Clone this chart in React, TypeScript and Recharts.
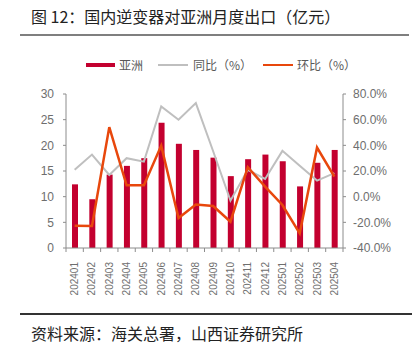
import React from "react";
import { ComposedChart, Bar, Line, XAxis, YAxis } from "recharts";

const months = [
  "202401", "202402", "202403", "202404", "202405", "202406", "202407", "202408",
  "202409", "202410", "202411", "202412", "202501", "202502", "202503", "202504",
];
// 亚洲出口（亿元）
const asia = [12.4, 9.5, 14.3, 16.0, 17.5, 24.4, 20.3, 19.1, 17.6, 14.0, 17.3, 18.2, 16.9, 12.0, 16.6, 19.1];
// 同比（%）
const yoy = [20.9, 32.8, 16.9, 30.0, 27.3, 70.3, 59.9, 72.9, 35.4, -3.1, 20.9, 13.8, 35.7, 24.0, 12.5, 18.3];
// 环比（%）
const mom = [-22.6, -22.9, 54.2, 8.9, 8.9, 39.8, -16.6, -6.2, -7.3, -19.5, 23.0, 7.8, -6.5, -28.6, 38.3, 15.6];

const leftTicks = [0, 5, 10, 15, 20, 25, 30];
const rightTicks = [-40, -20, 0, 20, 40, 60, 80];

const data = months.map((m, i) => ({ month: m, asia: asia[i], yoy: yoy[i], mom: mom[i] }));

const W = 414;
const H = 348;
const PLOT_LEFT = 66;
const PLOT_RIGHT = 343;
const BAND = (PLOT_RIGHT - PLOT_LEFT) / months.length;

const RED = "#C3002F";
const GRAY = "#BFBFBF";
const ORANGE = "#E8470C";
const AXIS = "#8C8C8C";
const TICK_TEXT = "#6E6E6E";
const CJK = '"Noto Sans CJK SC", "Noto Sans", sans-serif';

const MonthTick = (props: any) => {
  const { x, y, payload, index } = props;
  const isLast = index === months.length - 1;
  return (
    <g transform={`translate(${x},${y})`}>
      <line x1={-BAND / 2} y1={0} x2={-BAND / 2} y2={4} stroke={AXIS} />
      {isLast && <line x1={BAND / 2} y1={0} x2={BAND / 2} y2={4} stroke={AXIS} />}
      <text
        transform="rotate(-90)"
        x={-14}
        y={0}
        dy="0.35em"
        textAnchor="end"
        fontSize={10}
        fill={TICK_TEXT}
        fontFamily="Liberation Sans, Arial, sans-serif"
      >
        {payload.value}
      </text>
    </g>
  );
};

export default function App() {
  return (
    <div style={{ position: "absolute", left: 0, top: 0, width: W, height: H, background: "#fff", fontFamily: CJK }}>
      <div style={{ position: "absolute", left: 31, top: 5, fontSize: 16, color: "#222", whiteSpace: "nowrap", lineHeight: "22px" }}>
        图 12：国内逆变器对亚洲月度出口（亿元）
      </div>
      <div style={{ position: "absolute", left: 20, top: 34, width: 389, height: 2, background: "#7F7F7F" }} />

      {/* legend */}
      <div style={{ position: "absolute", left: 86, top: 63, width: 29, height: 4, background: RED }} />
      <div style={{ position: "absolute", left: 119, top: 56, fontSize: 12, color: "#595959", lineHeight: "17px" }}>亚洲</div>
      <div style={{ position: "absolute", left: 158, top: 64, width: 30, height: 2, background: GRAY }} />
      <div style={{ position: "absolute", left: 193, top: 56, fontSize: 12, color: "#595959", lineHeight: "17px", whiteSpace: "nowrap" }}>同比（%）</div>
      <div style={{ position: "absolute", left: 263, top: 64, width: 30, height: 2, background: ORANGE }} />
      <div style={{ position: "absolute", left: 297, top: 56, fontSize: 12, color: "#595959", lineHeight: "17px", whiteSpace: "nowrap" }}>环比（%）</div>

      <div style={{ position: "absolute", left: 0, top: 0 }}>
        <ComposedChart width={W} height={H} data={data} margin={{ top: 94, right: 0, bottom: 40, left: 0 }}>
          <XAxis
            dataKey="month"
            xAxisId="x"
            interval={0}
            height={60}
            stroke={AXIS}
            tickLine={false}
            tickSize={0}
            tickMargin={0}
            tick={<MonthTick />}
          />
          <YAxis
            yAxisId="left"
            orientation="left"
            width={PLOT_LEFT}
            domain={[0, 30]}
            ticks={leftTicks}
            stroke={AXIS}
            tickSize={3}
            tickMargin={9}
            tick={{ fill: TICK_TEXT, fontSize: 12, fontFamily: "Liberation Sans, Arial, sans-serif" }}
          />
          <YAxis
            yAxisId="right"
            orientation="right"
            width={W - PLOT_RIGHT}
            domain={[-40, 80]}
            ticks={rightTicks}
            stroke={AXIS}
            tickSize={3}
            tickMargin={7}
            tickFormatter={(v: number) => `${v.toFixed(1)}%`}
            tick={{ fill: TICK_TEXT, fontSize: 12, fontFamily: "Liberation Sans, Arial, sans-serif" }}
          />
          <Bar xAxisId="x" yAxisId="left" dataKey="asia" fill={RED} barSize={6} isAnimationActive={false} />
          <Line xAxisId="x" yAxisId="right" dataKey="yoy" stroke={GRAY} strokeWidth={2} dot={false} type="linear" isAnimationActive={false} />
          <Line xAxisId="x" yAxisId="right" dataKey="mom" stroke={ORANGE} strokeWidth={2.5} dot={false} type="linear" isAnimationActive={false} />
        </ComposedChart>
      </div>

      <div style={{ position: "absolute", left: 20, top: 313, width: 392, height: 2, background: "#333" }} />
      <div style={{ position: "absolute", left: 31, top: 322, fontSize: 16, color: "#222", whiteSpace: "nowrap", lineHeight: "22px" }}>
        资料来源：海关总署，山西证券研究所
      </div>
    </div>
  );
}
